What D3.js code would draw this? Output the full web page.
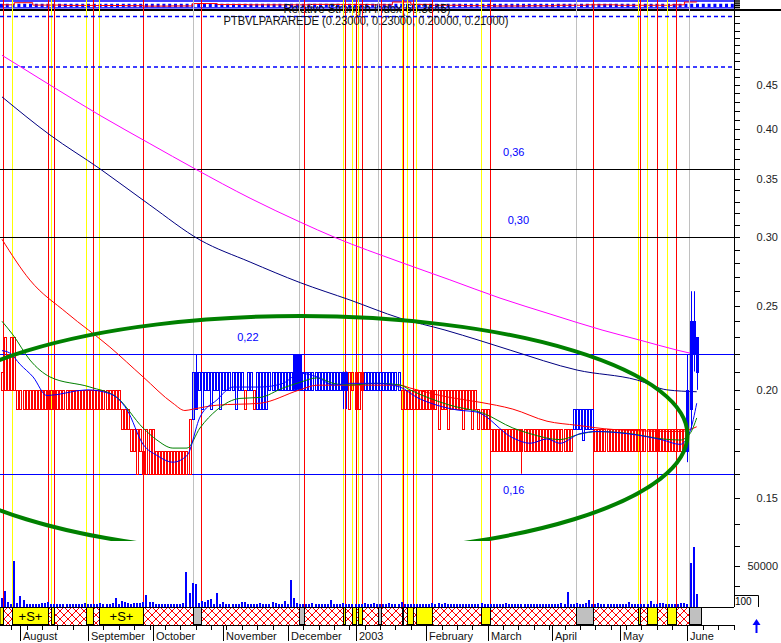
<!DOCTYPE html>
<html><head><meta charset="utf-8">
<script src="https://cdn.jsdelivr.net/npm/d3@7/dist/d3.min.js"></script>
<style>
html,body{margin:0;padding:0;background:#fff;}
svg{display:block;}
text{font-family:"Liberation Sans",Arial,Helvetica,sans-serif;}
</style></head>
<body>
<svg id="chart" width="781" height="643"></svg>
<script>
// ---------------- DATA ----------------
// trading-day index 0 = 24 Jul 2002 (weekdays)
const monthLabels = ["August","September","October","November","December","2003","February","March","April","May","June"];
const monthDays   = [6,28,49,72,93,115,138,158,179,201,223];
const priceTicks  = [0.15,0.20,0.25,0.30,0.35,0.40,0.45];

// candle bodies (cents)
const bodyTop = [
21,23,22,23,23,20,20,20,20,20, 20,20,20,20,20,20,20,20,20,20,
20,20,20,20,20,20,20,20,20,20, 20,20,20,20,20,20,20,20,20,19,
19,19,18,18,18,18,17,18,18,18, 17,17,17,17,17,17,17,17,17,17,
17,18.5,21,21,21,21,21,21,21,21, 21,21,21,21,21,21,21,21,21,20,
21,21,20,21,21,21,21,21,21,21, 21,21,21,21,21,22,22,22,21,21,
21,21,21,21,21,21,21,21,21,21, 21,21,21,21,21,21,21,21,21,21,
21,21,21,21,21,21,21,21,21,21, 20,20,20,20,20,20,20,20,20,20,
20,20,20,20,20,20,20,20,20,20, 20,20,20,20,20,19,19,19,19,18,
18,18,18,18,18,18,18,18,18,18, 18,18,18,18,18,18,18,18,18,18,
18,18,18,18,18,18,19,19,19,19, 19,19,19,18,18,18,18,18,18,18,
18,18,18,18,18,18,18,18,18,18, 18,18,18,18,18,18,18,18,18,18,
18,18,18,20,24,24,23];
const bodyBot = [
20,20,20,20,20,19,19,19,19,19, 19,19,19,19,19,19,19,19,19,19,
19,19,19,19,19,19,19,19,19,19, 19,19,19,19,19,19,19,19,19,18,
18,18,17,17,16,17,16,16,16,16, 16,16,16,16,16,16,16,16,16,16,
16,16,18.5,19,20,19,20,20,19,20, 20,19,20,20,20,20,19,20,20,19,
20,20,19,19,19,19,19,20,20,20, 20,20,20,20,20,20,20,20,20,20,
20,20,20,20,20,20,20,20,20,20, 20,20,20,19,20,19,19,20,20,20,
20,20,20,20,20,20,20,20,20,20, 19,19,19,19,19,19,19,19,19,19,
19,19,18,19,19,18,19,19,19,19, 18,19,19,18,19,18,18,18,18,17,
17,17,17,17,17,17,17,17,17,17, 17,17,17,17,17,17,17,17,17,17,
17,17,17,17,17,17,18,18,18,17.5, 18,18,18,17,17,17,17,17,17,17,
17,17,17,17,17,17,17,17,17,17, 17,17,17,17,17,17,17,17,17,17,
17,17,17,17,19,22,21];
const barColor = ("rrrrrrrrrr"+"rrrrrrrrrr"+"rrrrrrrrrr"+"rrrrrrrrrr"+"rrrrrrrrrr"+"rrrrrrrrrr"+
  "rrbbbbbbbb"+"bbbbbbbbbr"+"bbrbbbbbbb"+"bbbbbbbbbb"+"bbbbbbbbbb"+"bbbrrrrrbb"+"bbbbbbbbbb"+
  "rrrrrrrrrr"+"rrrrrrrrrr"+"rrrrrrrrrr"+"rrrrrrrrrr"+"rrrrrrrrrr"+"rrrrrrbbbb"+"bbbrrrrrrr"+
  "rrrrrrrrrr"+"rrrrrrrrrr"+"rrrbbbb").split("");
const wickDay  = [46,63,95,96,97,111,112,169,223,224,225,226];
const wickHigh = [18,22,22,22,22,21,21,18,22,26,26,23];
const wickLow  = [15,19,20,20,20,19,19,16,16.5,18,21,20];

// volume (thousands)
const volume = [
10,19,5,3,56,3.5,12,8,3,2.5, 3,2.5,3,3.5,3.5,4.5,2.5,2,3,3,
2.5,2.5,2,2,2,2.5,2,4,3,2, 2.5,3,4,2,2.5,3,3.5,10,3,6.5,
5,4,2.5,3.5,4,3.5,5,14,5,4.5, 2.5,3,2,2,2,2.5,3,2.5,3,3.5,
42,16,29,27,4,6.5,5,7,9,2.5, 16,2,5,2,2.5,3,2.5,2,4.5,5,
2.5,3,2.5,3,4,3,2,2.5,5,4, 3,3,6,3,33,10,4,2.5,3,2.5,
3,4,3,3,2.5,3,2,8,3,2.5, 2.5,3.5,2.5,3,2.5,2,2.5,3,3.5,2.5,
3,4,2,3,2.5,3,4,3,2.5,3, 5,2.5,3,2,2.5,2,3,2.5,3,2,
3.5,2.5,4,3,3.5,2.5,3,2,2.5,3, 2,2.5,3,2,2.5,3,4,3,2,3,
2.5,2,3,3,4,2.5,3,2,3,2.5, 2,2.5,3,2,3,2.5,2,3,2.5,3,
2,3,4,3,17,2.5,3,4,2.5,3, 4,7,3,2.5,4,2.5,3,2,2.5,3,
2.5,3,2,3,5,3,2.5,3,2,3, 2.5,6,3,2,3.5,4,2.5,3,2,2.5,
3,4,3.5,3,54,74,15];

// moving averages [day, price]
const maMagenta = [[0,0.487],[15.6,0.450],[31.9,0.415],[48.1,0.385],[62.8,0.360],[80.7,0.333],[97,0.3125],[108.3,0.300],[129.5,0.281],[145.7,0.268],[162,0.2553],[178.3,0.2447],[195.2,0.2345],[207.5,0.2283],[219.6,0.2223],[226,0.2196]];
const maNavy = [[0,0.436],[15.6,0.394],[31.9,0.360],[48.1,0.327],[64.4,0.298],[80.7,0.281],[97,0.266],[113.2,0.254],[129.5,0.242],[144.1,0.2345],[155.5,0.228],[165.3,0.2223],[187.1,0.2108],[206.6,0.2053],[216.3,0.200],[226,0.199]];
const maRed = [[0,0.2985],[9.1,0.2678],[21.1,0.2454],[35.1,0.2241],[45.9,0.207],[55.6,0.193],[59.5,0.1893],[62.1,0.190],[69.9,0.192],[83.9,0.193],[96.9,0.200],[102.5,0.2025],[129.5,0.2025],[132.7,0.201],[145.7,0.196],[155.5,0.1935],[166.2,0.190],[177.3,0.184],[187.1,0.182],[198.8,0.180],[220.6,0.179],[226,0.1813]];
const maGreen = [[0,0.240],[3.6,0.2314],[9.1,0.2165],[15.6,0.207],[28.6,0.2015],[37.4,0.196],[45.9,0.1807],[50.4,0.175],[55.6,0.1713],[60.2,0.1713],[64.4,0.1807],[69.9,0.1896],[77.4,0.1955],[83.9,0.196],[91.4,0.201],[96.9,0.204],[102.5,0.2065],[107.7,0.2035],[113.2,0.2026],[122,0.2035],[129.5,0.2026],[132.7,0.200],[145.7,0.192],[156.5,0.188],[166.2,0.1807],[171.8,0.178],[181.5,0.1752],[188,0.1778],[193.6,0.179],[204.4,0.178],[215,0.1755],[220.6,0.175],[223.8,0.178],[226,0.1856]];
const maBlue = [[0,0.222],[2.6,0.2205],[5.9,0.214],[10.1,0.207],[14.6,0.197],[27.7,0.200],[35.1,0.198],[40.7,0.1896],[45.9,0.173],[50.4,0.168],[55.6,0.165],[60.2,0.168],[64.4,0.186],[69.9,0.1947],[75.1,0.2015],[83.9,0.2015],[91.4,0.2035],[96.9,0.209],[102.5,0.207],[107.7,0.2026],[113.2,0.2035],[122,0.2035],[129.5,0.2015],[135,0.196],[141.5,0.192],[148,0.1896],[154.5,0.1885],[166.2,0.176],[171.8,0.1735],[177.3,0.1755],[181.5,0.1735],[188,0.178],[193.6,0.179],[204.4,0.1778],[215,0.175],[220.6,0.173],[223.8,0.179],[226,0.193]];

// RSI (top strip)
const rsiDays = [0,4,10,20,30,40,46,55,62,70,80,90,100,110,120,127,133,140,150,160,170,180,190,200,210,218,222,226];
const rsiVals = [55,80,52,48,47,45,40,42,70,58,55,55,60,58,55,88,60,50,45,42,44,50,55,50,50,55,88,90];

// annotation lines
const levelValues = [0.36,0.30,0.22,0.16];
const levelLabels = ["0,36","0,30","0,22","0,16"];
const levelLabelDay = [163,164.5,76.5,163];
const dashedLevels = [0.54,0.472];
// ellipse: day extent and price extent
const ellipseDays = [-29,223];
const ellipsePrices = [0.2434,0.1292];

// event lines: day and kind (r = red/exit, y = yellow/entry, g = grey)
const eventDay = [0.4,3.4,15.1,15.9,17.0,27.4,29.7,31.7,46.0,62.0,64.8,96.5,98.2,111.0,111.7,114.0,115.2,115.9,117.2,122.4,123.3,130.0,130.6,131.9,133.8,134.7,140.0,155.9,158.8,186.7,192.4,207.0,207.6,209.9,213.2,216.2,219.3,223.5];
const eventKind = "r y r y r y r y r g r g r y r y r y r g r y r y r y r y r g r y r y r y r g".split(" ");

// ---------------- CHART ----------------
const svg = d3.select("#chart");
const AX = 734;
const nDays = bodyTop.length;
const x = d3.scaleLinear().domain([0,238]).range([2,733.6]);
const y = d3.scaleLog().domain([0.15,0.45]).range([498,85]);
const yVol = d3.scaleLinear().domain([0,50]).range([606,566]);
const yRsi = d3.scaleLinear().domain([0,100]).range([9.5,1]);
const evColor = {r:"#ff0000", y:"#ffff00", g:"#c0c0c0"};

const defs = svg.append("defs");
const pat = defs.append("pattern").attr("id","hatch").attr("patternUnits","userSpaceOnUse")
  .attr("width",8).attr("height",8).attr("y",607);
pat.append("rect").attr("width",8).attr("height",8).attr("fill","#fff");
pat.append("path").attr("d","M0,0L8,8M8,0L0,8").attr("stroke","#ff0000").attr("stroke-width",1);
pat.append("rect").attr("x",3.5).attr("y",3.5).attr("width",1).attr("height",1).attr("fill","#ff0000");
defs.append("clipPath").attr("id","pclip").append("rect").attr("x",0).attr("y",11).attr("width",AX).attr("height",530);
defs.append("clipPath").attr("id","aclip").append("rect").attr("x",0).attr("y",0).attr("width",AX).attr("height",643);

svg.append("rect").attr("width",781).attr("height",643).attr("fill","#fff");

// RSI strip
const rsiG = svg.append("g");
rsiG.append("line").attr("x1",0).attr("x2",AX).attr("y1",1).attr("y2",1).attr("stroke","#0000ff").attr("stroke-width",1.5);
rsiG.append("line").attr("x1",0).attr("x2",AX).attr("y1",5.5).attr("y2",5.5).attr("stroke","#0000ff")
  .attr("stroke-width",3.3).attr("stroke-dasharray","3,2.8");
rsiG.append("path").datum(d3.zip(rsiDays,rsiVals)).attr("fill","none").attr("stroke","#ff0000").attr("stroke-width",1)
  .attr("d",d3.line().x(d=>x(d[0])).y(d=>yRsi(d[1])).curve(d3.curveStepAfter));
rsiG.append("line").attr("x1",0).attr("x2",AX).attr("y1",7.8).attr("y2",7.8).attr("stroke","#0000ff").attr("stroke-width",1.2);
rsiG.append("line").attr("x1",0).attr("x2",781).attr("y1",10).attr("y2",10).attr("stroke","#000").attr("stroke-width",2);
rsiG.append("text").attr("x",367).attr("y",12.5).attr("text-anchor","middle").attr("font-size",12)
  .attr("fill","#111").attr("textLength",167).attr("lengthAdjust","spacingAndGlyphs")
  .text("Relative Strength Index(60.3645)");

// event vertical lines
svg.append("g").attr("clip-path","url(#aclip)").selectAll("line").data(d3.zip(eventDay,eventKind)).join("line")
  .attr("x1",d=>Math.round(x(d[0]))+0.5).attr("x2",d=>Math.round(x(d[0]))+0.5)
  .attr("y1",0).attr("y2",607).attr("stroke",d=>evColor[d[1]]).attr("stroke-width",1);

// dashed levels
svg.append("g").selectAll("line").data(dashedLevels).join("line")
  .attr("x1",0).attr("x2",AX).attr("y1",d=>y(d)).attr("y2",d=>y(d))
  .attr("stroke","#0000ff").attr("stroke-width",1.5).attr("stroke-dasharray","4,3");

// horizontal levels
svg.append("g").selectAll("line").data(levelValues).join("line")
  .attr("x1",0).attr("x2",AX).attr("y1",d=>Math.round(y(d))+0.5).attr("y2",d=>Math.round(y(d))+0.5)
  .attr("stroke",(d,i)=>i<2?"#000000":"#0000ff").attr("stroke-width",1);

const pG = svg.append("g").attr("clip-path","url(#pclip)");
const lineGen = d3.line().x(d=>x(d[0])).y(d=>y(d[1])).curve(d3.curveMonotoneX);
pG.append("path").datum(maMagenta).attr("fill","none").attr("stroke","#ff00ff").attr("stroke-width",1).attr("d",lineGen);
pG.append("path").datum(maNavy).attr("fill","none").attr("stroke","#000080").attr("stroke-width",1).attr("d",lineGen);

// candles
const cents = v => v/100;
const days = d3.range(nDays);
pG.append("g").selectAll("line").data(wickDay.map((d,i)=>({d, hi:wickHigh[i], lo:wickLow[i]}))).join("line")
  .attr("x1",w=>Math.round(x(w.d))+0.5).attr("x2",w=>Math.round(x(w.d))+0.5)
  .attr("y1",w=>y(cents(w.hi))).attr("y2",w=>y(cents(w.lo)))
  .attr("stroke",w=>barColor[w.d]==="b"?"#0000ff":"#ff0000").attr("stroke-width",1);
pG.append("g").selectAll("rect").data(days).join("rect")
  .attr("x",i=>Math.round(x(i))-0.5).attr("width",2)
  .attr("y",i=>Math.round(y(cents(bodyTop[i])))+0.5)
  .attr("height",i=>Math.max(1,Math.round(y(cents(bodyBot[i])))-Math.round(y(cents(bodyTop[i])))))
  .attr("fill","none").attr("stroke",i=>barColor[i]==="b"?"#0000ff":"#ff0000").attr("stroke-width",1);

pG.append("path").datum(maRed).attr("fill","none").attr("stroke","#ff0000").attr("stroke-width",1).attr("d",lineGen);
pG.append("path").datum(maGreen).attr("fill","none").attr("stroke","#008000").attr("stroke-width",1).attr("d",lineGen);
pG.append("path").datum(maBlue).attr("fill","none").attr("stroke","#0000ff").attr("stroke-width",1).attr("d",lineGen);

// ellipse annotation
const ex0 = x(ellipseDays[0]), ex1 = x(ellipseDays[1]);
const ey0 = y(ellipsePrices[0]), ey1 = y(ellipsePrices[1]);
pG.append("ellipse").attr("cx",(ex0+ex1)/2).attr("cy",(ey0+ey1)/2).attr("rx",(ex1-ex0)/2).attr("ry",(ey1-ey0)/2)
  .attr("fill","none").attr("stroke","#008000").attr("stroke-width",4);

// level labels
svg.append("g").selectAll("text").data(levelValues).join("text")
  .attr("x",(d,i)=>x(levelLabelDay[i])).attr("y",(d,i)=>y(d)+(i===3?20:-13))
  .attr("font-size",11).attr("fill","#0000ff").text((d,i)=>levelLabels[i]);

// volume
svg.append("g").selectAll("rect").data(days).join("rect")
  .attr("x",i=>Math.round(x(i))-1).attr("width",2)
  .attr("y",i=>yVol(volume[i])).attr("height",i=>yVol(0)-yVol(volume[i])+1)
  .attr("fill","#0000ff").attr("shape-rendering","crispEdges");

// signal strip
const stripTop = 607, stripBot = 625;
const endX = x(nDays+0.3);
svg.append("rect").attr("x",0).attr("y",stripTop).attr("width",endX).attr("height",stripBot-stripTop).attr("fill","url(#hatch)");
const boxes = [];
let open = {kind:"y", from:-1};
eventDay.forEach((d,i)=>{
  const k = eventKind[i];
  if (k==="r") { if (open) { boxes.push({kind:open.kind, from:open.from, to:d}); open=null; } }
  else open = {kind:k, from:d};
});
if (open) boxes.push({kind:open.kind, from:open.from, to:nDays+0.3});
const bx = d=>Math.max(0,Math.round(x(d))+0.5);
const bg = svg.append("g");
bg.selectAll("rect").data(boxes).join("rect")
  .attr("x",b=>bx(b.from)).attr("width",b=>Math.max(1,bx(b.to)-bx(b.from)))
  .attr("y",stripTop+0.5).attr("height",stripBot-stripTop-1)
  .attr("fill",b=>b.kind==="g"?"#c0c0c0":"#ffff00").attr("stroke","#000").attr("stroke-width",1);
bg.selectAll("text").data(boxes.filter(b=>bx(b.to)-bx(b.from)>30)).join("text")
  .attr("x",b=>(bx(b.from)+bx(b.to))/2).attr("y",621).attr("text-anchor","middle")
  .attr("font-size",13).attr("fill","#000").text("+S+");
svg.append("line").attr("x1",0).attr("x2",AX).attr("y1",stripTop+0.5).attr("y2",stripTop+0.5).attr("stroke","#000");
svg.append("line").attr("x1",0).attr("x2",AX).attr("y1",stripBot+0.5).attr("y2",stripBot+0.5).attr("stroke","#000");

// time axis
const tG = svg.append("g");
tG.selectAll("line.w").data(d3.range(3,239,5)).join("line").attr("class","w")
  .attr("x1",d=>Math.round(x(d))+0.5).attr("x2",d=>Math.round(x(d))+0.5)
  .attr("y1",stripBot).attr("y2",630).attr("stroke","#000");
tG.selectAll("line.m").data(monthDays).join("line").attr("class","m")
  .attr("x1",d=>Math.round(x(d))+0.5).attr("x2",d=>Math.round(x(d))+0.5)
  .attr("y1",stripBot).attr("y2",641).attr("stroke","#000");
tG.selectAll("text").data(monthDays).join("text")
  .attr("x",d=>Math.round(x(d))+3).attr("y",640).attr("font-size",11).attr("fill","#111")
  .text((d,i)=>monthLabels[i]);

// right axis
const rG = svg.append("g");
rG.append("line").attr("x1",AX+0.5).attr("x2",AX+0.5).attr("y1",0).attr("y2",607).attr("stroke","#000");
rG.selectAll("line.t").data(d3.range(13,56).map(c=>c/100).filter(v=>y(v)>12&&y(v)<538)).join("line").attr("class","t")
  .attr("x1",AX).attr("x2",AX+6).attr("y1",d=>Math.round(y(d))+0.5).attr("y2",d=>Math.round(y(d))+0.5).attr("stroke","#000");
rG.selectAll("text.p").data(priceTicks).join("text").attr("class","p")
  .attr("x",778).attr("y",d=>y(d)+4).attr("text-anchor","end").attr("font-size",11).attr("fill","#222")
  .text(d=>d.toFixed(2));
rG.selectAll("line.v").data([25,50,75]).join("line").attr("class","v")
  .attr("x1",AX).attr("x2",AX+6).attr("y1",d=>Math.round(yVol(d))+0.5).attr("y2",d=>Math.round(yVol(d))+0.5).attr("stroke","#000");
rG.append("text").attr("x",778).attr("y",yVol(50)+4).attr("text-anchor","end").attr("font-size",11).attr("fill","#222").text("50000");
rG.selectAll("line.r").data([0,25,50,75,100]).join("line").attr("class","r")
  .attr("x1",AX).attr("x2",AX+6).attr("y1",d=>yRsi(d)).attr("y2",d=>yRsi(d)).attr("stroke","#000").attr("stroke-width",1.5);
// small box
rG.append("path").attr("d","M735,595.5H758.5V607").attr("fill","none").attr("stroke","#000");
rG.append("text").attr("x",735).attr("y",605).attr("font-size",10).attr("fill","#000").text("100");
// arrow
rG.append("path").attr("d","M756.5,633V624").attr("stroke","#0000ff").attr("stroke-width",2);
rG.append("path").attr("d","M752.5,625L756.5,619L760.5,625Z").attr("fill","#0000ff");

// instrument title
svg.append("text").attr("x",366).attr("y",25).attr("text-anchor","middle").attr("font-size",12)
  .attr("fill","#111").attr("textLength",285).attr("lengthAdjust","spacingAndGlyphs")
  .text("PTBVLPARAREDE (0.23000, 0.23000, 0.20000, 0.21000)");
</script>
</body></html>
